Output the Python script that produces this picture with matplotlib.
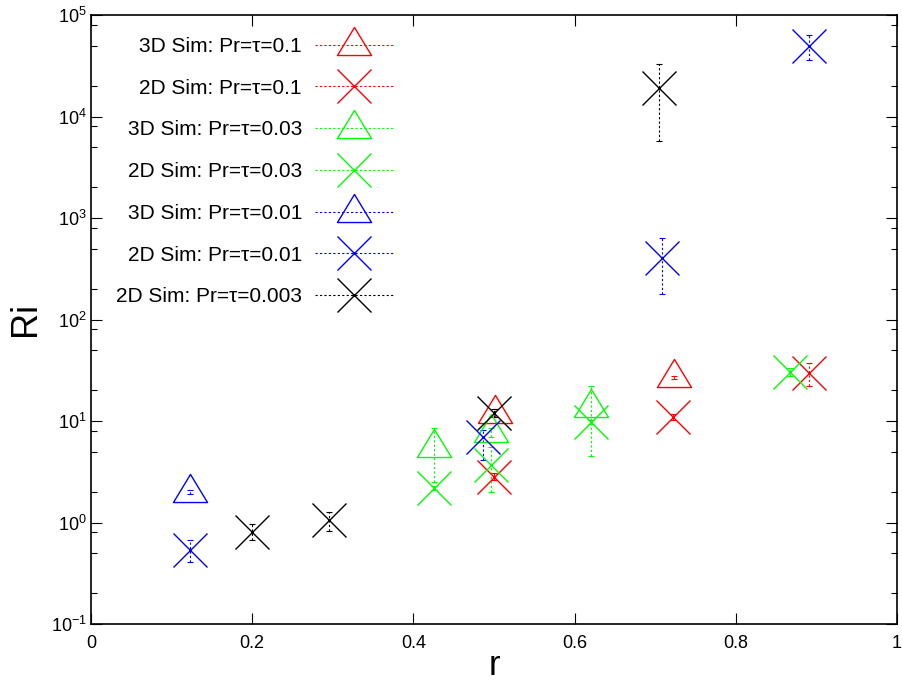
import matplotlib
matplotlib.use("Agg")
import matplotlib.pyplot as plt
from matplotlib.path import Path
from matplotlib.lines import Line2D
from matplotlib.ticker import FixedLocator, NullFormatter
import numpy as np

plt.rcParams['font.family'] = ['Liberation Sans', 'DejaVu Sans']
plt.rcParams['mathtext.fontset'] = 'custom'
plt.rcParams['mathtext.rm'] = 'Liberation Sans'

# ---------------- data ----------------
labels = ["3D Sim: Pr=τ=0.1", "2D Sim: Pr=τ=0.1",
          "3D Sim: Pr=τ=0.03", "2D Sim: Pr=τ=0.03",
          "3D Sim: Pr=τ=0.01", "2D Sim: Pr=τ=0.01",
          "2D Sim: Pr=τ=0.003"]
colors = ["#ff0000", "#ff0000", "#00ff00", "#00ff00", "#0000ff", "#0000ff", "#000000"]
kinds = ["tri", "x", "tri", "x", "tri", "x", "x"]

r_3d_01 = [0.501, 0.723]
ri_3d_01 = [12.0, 27.0]
lo_3d_01 = [11.0, 26.0]
hi_3d_01 = [13.0, 28.0]

r_2d_01 = [0.500, 0.722, 0.891]
ri_2d_01 = [2.8, 10.9, 30.0]
lo_2d_01 = [2.6, 10.2, 22.0]
hi_2d_01 = [3.1, 11.8, 37.0]

r_3d_003 = [0.426, 0.496, 0.620]
ri_3d_003 = [5.5, 7.8, 13.7]
lo_3d_003 = [2.5, 7.0, 4.5]
hi_3d_003 = [8.5, 8.6, 22.0]

r_2d_003 = [0.426, 0.496, 0.620, 0.867]
ri_2d_003 = [2.2, 3.7, 9.8, 30.4]
lo_2d_003 = [2.1, 2.0, 9.3, 28.0]
hi_2d_003 = [2.3, 5.5, 10.3, 33.0]

r_3d_001 = [0.123]
ri_3d_001 = [2.0]
lo_3d_001 = [1.9]
hi_3d_001 = [2.1]

r_2d_001 = [0.123, 0.486, 0.709, 0.891]
ri_2d_001 = [0.54, 6.9, 400.0, 49000.0]
lo_2d_001 = [0.41, 4.1, 178.0, 36000.0]
hi_2d_001 = [0.67, 8.2, 630.0, 63000.0]

r_2d_0003 = [0.200, 0.295, 0.500, 0.705]
ri_2d_0003 = [0.81, 1.06, 12.0, 19000.0]
lo_2d_0003 = [0.67, 0.82, 11.0, 5700.0]
hi_2d_0003 = [0.97, 1.27, 13.0, 33000.0]

series = [
    (r_3d_01, ri_3d_01, lo_3d_01, hi_3d_01),
    (r_2d_01, ri_2d_01, lo_2d_01, hi_2d_01),
    (r_3d_003, ri_3d_003, lo_3d_003, hi_3d_003),
    (r_2d_003, ri_2d_003, lo_2d_003, hi_2d_003),
    (r_3d_001, ri_3d_001, lo_3d_001, hi_3d_001),
    (r_2d_001, ri_2d_001, lo_2d_001, hi_2d_001),
    (r_2d_0003, ri_2d_0003, lo_2d_0003, hi_2d_0003),
]

xticks = [0, 0.2, 0.4, 0.6, 0.8, 1]
xticklabels = ["0", "0.2", "0.4", "0.6", "0.8", "1"]
yexps = [-1, 0, 1, 2, 3, 4, 5]

# ---------------- figure ----------------
W, H = 903, 688
fig = plt.figure(figsize=(W / 100, H / 100), dpi=100)
ax = fig.add_axes([91 / W, 64 / H, 806 / W, 609 / H])

# gnuplot-like triangle: apex higher above centre than base below
tri_marker = Path([(0, 18), (-17, -10), (17, -10), (0, 18)],
                  [Path.MOVETO, Path.LINETO, Path.LINETO, Path.CLOSEPOLY])
markers = {"tri": (tri_marker, 26), "x": ("x", 24.5)}

handles = []
for (rs, ris, lo, hi), c, k, lab in zip(series, colors, kinds, labels):
    rs = np.array(rs); ris = np.array(ris)
    yerr = np.vstack([ris - np.array(lo), np.array(hi) - ris])
    eb = ax.errorbar(rs, ris, yerr=yerr, fmt='none', ecolor=c, elinewidth=0.8,
                     capsize=2.5, capthick=0.8, zorder=2)
    eb[2][0].set_linestyle((0, (2, 2)))
    m, ms = markers[k]
    ax.plot(rs, ris, linestyle='none', marker=m, markersize=ms,
            markerfacecolor='none', markeredgecolor=c, markeredgewidth=1.0, zorder=3)
    handles.append(Line2D([], [], color=c, linestyle=(0, (2, 2)), linewidth=0.8,
                          marker=m, markersize=ms, markerfacecolor='none',
                          markeredgecolor=c, markeredgewidth=1.0))

ax.set_yscale('log')
ax.set_xlim(0, 1)
ax.set_ylim(1e-1, 1e5)

ax.xaxis.set_major_locator(FixedLocator(xticks))
ax.set_xticklabels(xticklabels)
ax.yaxis.set_major_locator(FixedLocator([10.0 ** e for e in yexps]))
ax.set_yticklabels([r'$\mathregular{10^{%d}}$' % e for e in yexps])
minor = [m * 10.0 ** e for e in range(-1, 5) for m in (2, 5, 8)]
ax.yaxis.set_minor_locator(FixedLocator(minor))
ax.yaxis.set_minor_formatter(NullFormatter())

ax.tick_params(which='both', direction='in', top=True, right=True, width=0.8, color='black')
ax.tick_params(which='major', length=8)
ax.tick_params(which='minor', length=4)
ax.tick_params(axis='x', labelsize=13, pad=8)
ax.tick_params(axis='y', labelsize=13, pad=3)
for s in ax.spines.values():
    s.set_linewidth(1.2)

ax.set_xlabel('r', fontsize=25, labelpad=-2)
ax.set_ylabel('Ri', fontsize=26, labelpad=6)

fs = 15
fpx = fs * 100 / 72
leg = ax.legend(handles, labels, loc='upper right',
                bbox_to_anchor=((394 - 91) / 806, (624 - 37) / 609),
                bbox_transform=ax.transAxes, frameon=False, markerfirst=False,
                numpoints=1, fontsize=fs, handlelength=79 / fpx,
                handletextpad=13 / fpx, labelspacing=1.09,
                borderpad=0, borderaxespad=0)

fig.savefig('out.png', dpi=100)
